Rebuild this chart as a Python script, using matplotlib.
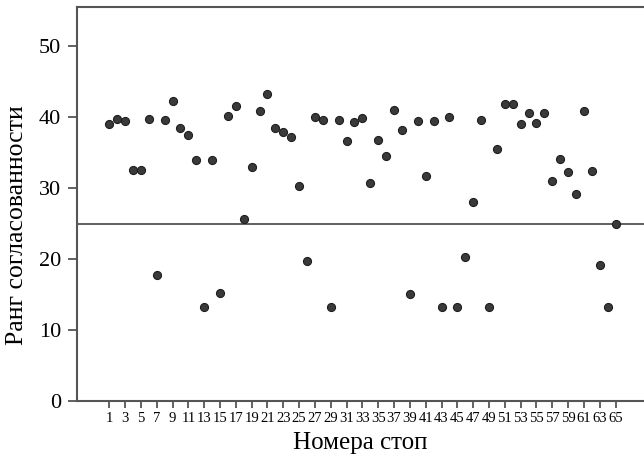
import matplotlib
matplotlib.use("Agg")
import matplotlib.pyplot as plt

stops = list(range(1, 66))
ranks = [39.0, 39.7, 39.4, 32.5, 32.5, 39.7, 17.7, 39.6, 42.2, 38.5,
         37.4, 33.9, 13.3, 33.9, 15.2, 40.1, 41.5, 25.6, 33.0, 40.8,
         43.2, 38.5, 37.9, 37.2, 30.3, 19.7, 40.0, 39.6, 13.3, 39.6,
         36.6, 39.3, 39.9, 30.7, 36.8, 34.5, 41.0, 38.2, 15.1, 39.4,
         31.7, 39.4, 13.3, 40.0, 13.3, 20.3, 28.0, 39.6, 13.3, 35.5,
         41.9, 41.9, 39.0, 40.5, 39.2, 40.5, 31.0, 34.1, 32.3, 29.2,
         40.8, 32.4, 19.2, 13.3, 24.9]
threshold = 25
xtick_labels = [str(i) for i in range(1, 66, 2)]
yticks = [0, 10, 20, 30, 40, 50]

plt.rcParams['font.family'] = ['Liberation Serif', 'DejaVu Serif']

fig = plt.figure(figsize=(6.44, 4.63), dpi=100)
ax = fig.add_axes([77/644, 62/463, 1 - 77/644, (401 - 7)/463])

ax.axhline(threshold, color='#444444', lw=1.2, zorder=1)
ax.plot(stops, ranks, 'o', ms=5.8, mfc='#3a3a3a', mec='#1e1e1e', mew=0.8, zorder=3, clip_on=False)

ax.set_xlim(-3.08, 68.6)
ax.set_ylim(0, 55.5)
ax.set_xticks(range(1, 66, 2))
ax.set_xticklabels(xtick_labels, fontsize=10.5)
ax.set_yticks(yticks)
ax.tick_params(axis='y', labelsize=16, length=6.5, width=1.3, color='#555555', pad=5)
ax.tick_params(axis='x', length=5, width=1.3, color='#555555', pad=3)

for s in ['left', 'bottom', 'top']:
    ax.spines[s].set_color('#555555')
    ax.spines[s].set_linewidth(1.5)
ax.spines['right'].set_visible(False)

ax.set_xlabel('Номера стоп', fontsize=18, labelpad=5)
ax.set_ylabel('Ранг согласованности', fontsize=18.5, labelpad=7.5)
ax.yaxis.label.set_y(0.447)

fig.savefig('out.png', dpi=100)
